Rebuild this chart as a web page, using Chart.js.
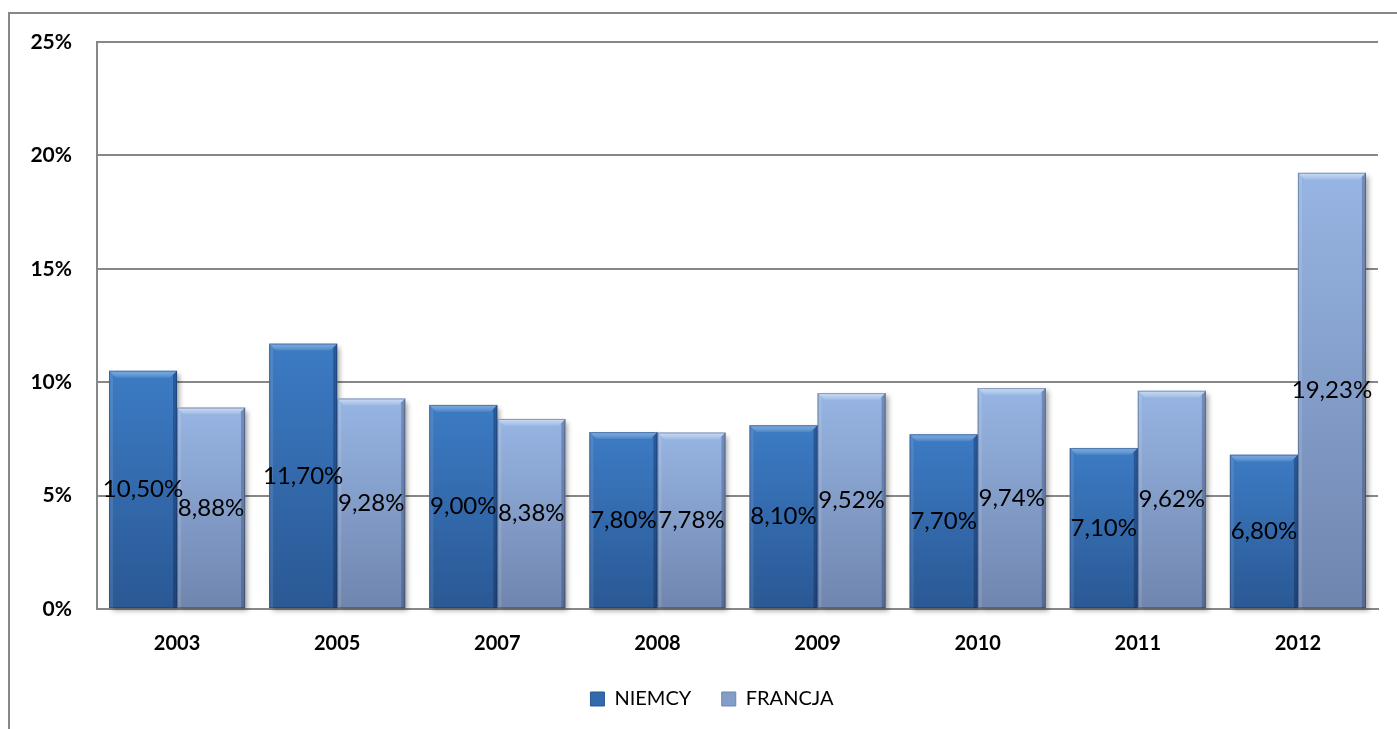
<!DOCTYPE html>
<html>
<head>
<meta charset="utf-8">
<script src="https://cdn.jsdelivr.net/npm/chart.js@4/dist/chart.umd.min.js"></script>
<style>
html,body{margin:0;padding:0;background:#fff;overflow:hidden;}
#wrap{width:1397px;height:729px;position:relative;}
canvas{display:block;}
</style>
</head>
<body>
<div id="wrap"><canvas id="c" width="1397" height="729"></canvas></div>
<script>
const years = ['2003','2005','2007','2008','2009','2010','2011','2012'];
const niemcy = [10.50, 11.70, 9.00, 7.80, 8.10, 7.70, 7.10, 6.80];
const francja = [8.88, 9.28, 8.38, 7.78, 9.52, 9.74, 9.62, 19.23];
const yTicks = [0, 5, 10, 15, 20, 25];

const FONT = 'Lato, "Open Sans", sans-serif';
const palettes = {
  dark: {top:'#3c7bc4', bottom:'#2a5894', mid:'#3369ad', bevel:'rgba(150,195,245,0.6)', right:'rgba(10,30,70,0.35)', left:'rgba(255,255,255,0.10)'},
  light:{top:'#97b5e3', bottom:'#6f85ae', mid:'#839dc9', bevel:'rgba(225,240,255,0.65)', right:'rgba(30,45,80,0.3)', left:'rgba(255,255,255,0.12)'}
};

function barGradient(pal){
  return function(ctx){
    const chart = ctx.chart;
    const area = chart.chartArea;
    if(!area || ctx.raw === undefined) return pal.mid;
    const y = chart.scales.y;
    const top = y.getPixelForValue(ctx.raw);
    const base = y.getPixelForValue(0);
    const g = chart.ctx.createLinearGradient(0, top, 0, base);
    g.addColorStop(0, pal.top);
    g.addColorStop(1, pal.bottom);
    return g;
  };
}

const framePlugin = {
  id:'frame',
  beforeDraw(chart){
    const c = chart.ctx;
    c.save();
    c.fillStyle = '#fff';
    c.fillRect(0,0,chart.width,chart.height);
    c.fillStyle = '#878787';
    c.fillRect(8, 12, 2, chart.height - 12);
    c.fillRect(8, 12, chart.width - 8, 2);
    c.restore();
  }
};

const legendShift = {
  id:'legendShift',
  afterLayout(chart){
    const lg = chart.legend;
    if(lg){ lg.left += 23; lg.right += 23; }
  }
};

const shadowPlugin = {
  id:'barShadow',
  beforeDatasetsDraw(chart){
    const c = chart.ctx;
    c.save();
    c.shadowColor = 'rgba(0,0,0,0.35)';
    c.shadowBlur = 5;
    c.shadowOffsetX = 3;
    c.shadowOffsetY = 3;
    c.fillStyle = '#bbb';
    chart.data.datasets.forEach((ds, di) => {
      chart.getDatasetMeta(di).data.forEach(bar => {
        const p = bar.getProps(['x','y','base','width'], true);
        c.fillRect(p.x - p.width/2, p.y, p.width, p.base - p.y);
      });
    });
    c.restore();
  }
};

const bevelPlugin = {
  id:'bevel',
  afterDatasetsDraw(chart){
    const c = chart.ctx;
    chart.data.datasets.forEach((ds, di) => {
      const pal = di === 0 ? palettes.dark : palettes.light;
      const meta = chart.getDatasetMeta(di);
      meta.data.forEach(bar => {
        const p = bar.getProps(['x','y','base','width'], true);
        const l = p.x - p.width/2, r = p.x + p.width/2, t = p.y, b = p.base;
        const bv = 7, sv = 4;
        c.save();
        const tg = c.createLinearGradient(0,t,0,t+bv);
        tg.addColorStop(0,pal.bevel); tg.addColorStop(1,'rgba(255,255,255,0.05)');
        c.fillStyle = tg;
        c.beginPath(); c.moveTo(l,t); c.lineTo(r,t); c.lineTo(r-bv,t+bv); c.lineTo(l+bv,t+bv); c.closePath(); c.fill();
        c.fillStyle = pal.right;
        c.beginPath(); c.moveTo(r,t); c.lineTo(r,b); c.lineTo(r-sv,b); c.lineTo(r-sv,t+sv); c.closePath(); c.fill();
        c.fillStyle = pal.left;
        c.beginPath(); c.moveTo(l,t); c.lineTo(l+sv,t+sv); c.lineTo(l+sv,b); c.lineTo(l,b); c.closePath(); c.fill();
        c.strokeStyle = 'rgba(20,40,80,0.35)';
        c.lineWidth = 1;
        c.strokeRect(l+0.5, t+0.5, p.width-1, b-t-1);
        c.restore();
      });
    });
  }
};

const labelPlugin = {
  id:'valueLabels',
  afterDatasetsDraw(chart){
    const c = chart.ctx;
    c.save();
    c.font = '24px ' + FONT;
    c.fillStyle = '#000';
    c.textAlign = 'center';
    c.textBaseline = 'middle';
    chart.data.datasets.forEach((ds, di) => {
      const meta = chart.getDatasetMeta(di);
      meta.data.forEach((bar, i) => {
        const p = bar.getProps(['x','y','base'], true);
        const txt = ds.data[i].toFixed(2).replace('.', ',') + '%';
        c.fillText(txt, p.x, (p.y + p.base)/2);
      });
    });
    c.restore();
  }
};

new Chart(document.getElementById('c'), {
  type:'bar',
  data:{
    labels: years,
    datasets:[
      {label:'NIEMCY', data: niemcy, backgroundColor: barGradient(palettes.dark), borderWidth:0,
       categoryPercentage:0.85, barPercentage:1.0},
      {label:'FRANCJA', data: francja, backgroundColor: barGradient(palettes.light), borderWidth:0,
       categoryPercentage:0.85, barPercentage:1.0}
    ]
  },
  options:{
    responsive:false,
    animation:false,
    layout:{padding:{left:0, top:42, right:19, bottom:10}},
    scales:{
      x:{
        grid:{display:false, drawTicks:false},
        border:{display:true, color:'#878787', width:2},
        ticks:{color:'#000', font:{family:FONT, size:20, weight:'bold'}, padding:23},
        afterFit(s){ s.height = 70; }
      },
      y:{
        min:0, max:25,
        afterBuildTicks(s){ s.ticks = yTicks.map(v => ({value:v})); },
        grid:{color:'#878787', lineWidth:2, drawTicks:false},
        border:{display:true, color:'#878787', width:2},
        ticks:{color:'#000', font:{family:FONT, size:21, weight:'bold'}, padding:25,
               callback:(v) => v + '%'},
        afterFit(s){ s.width = 97; }
      }
    },
    plugins:{
      legend:{
        position:'bottom',
        labels:{
          color:'#000',
          font:{family:FONT, size:20},
          boxWidth:14, boxHeight:14, padding:10,
          generateLabels(chart){
            const items = Chart.defaults.plugins.legend.labels.generateLabels(chart);
            items.forEach((it, i) => {
              const pal = i === 0 ? palettes.dark : palettes.light;
              it.fillStyle = pal.mid;
              it.strokeStyle = pal.bottom;
              it.lineWidth = 1;
              it.text = it.text + '    ';
            });
            items[items.length-1].text = items[items.length-1].text.trim();
            return items;
          }
        }
      },
      tooltip:{enabled:false}
    }
  },
  plugins:[framePlugin, legendShift, shadowPlugin, bevelPlugin, labelPlugin]
});
</script>
</body>
</html>
